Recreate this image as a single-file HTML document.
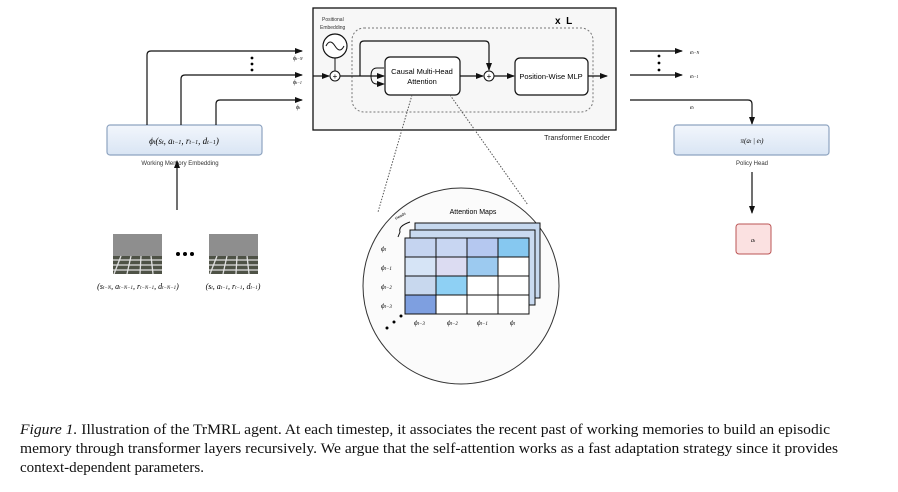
<!DOCTYPE html>
<html><head><meta charset="utf-8"><style>
body{margin:0;background:#fff}
svg{display:block}
text{font-family:"Liberation Sans",sans-serif}
text.s,.s text{font-family:"Liberation Serif",serif;font-style:italic}
text.cap{font-family:"Liberation Serif",serif;font-size:14.5px}
</style></head><body>
<svg width="898" height="492" viewBox="0 0 898 492" xmlns="http://www.w3.org/2000/svg">
<defs>
<marker id="a" markerWidth="8" markerHeight="8" refX="7" refY="4" orient="auto" markerUnits="userSpaceOnUse"><path d="M0,1 L8,4 L0,7 z" fill="#111"/></marker>
<linearGradient id="bl" x1="0" y1="0" x2="0" y2="1"><stop offset="0" stop-color="#f2f6fc"/><stop offset="1" stop-color="#d9e5f4"/></linearGradient>
</defs>
<!-- left embedding -->
<rect x="107" y="125" width="155" height="30" rx="3" fill="url(#bl)" stroke="#8ea4c0" stroke-width="1.2"/>
<text x="184" y="144" font-size="9" text-anchor="middle" class="s">ϕ<tspan font-size="6">t</tspan>(s<tspan font-size="6">t</tspan>, a<tspan font-size="6">t−1</tspan>, r<tspan font-size="6">t−1</tspan>, d<tspan font-size="6">t−1</tspan>)</text>
<text x="180" y="165" font-size="6" text-anchor="middle" fill="#333">Working Memory Embedding</text>
<path d="M147,125 V55 Q147,51 151,51 H302" fill="none" stroke="#111" stroke-width="1.2" marker-end="url(#a)"/>
<path d="M181,125 V79 Q181,75 185,75 H302" fill="none" stroke="#111" stroke-width="1.2" marker-end="url(#a)"/>
<path d="M216,125 V104 Q216,100 220,100 H302" fill="none" stroke="#111" stroke-width="1.2" marker-end="url(#a)"/>
<text x="293" y="60" font-size="6" class="s">ϕ<tspan font-size="4">t−N</tspan></text>
<text x="293" y="84" font-size="6" class="s">ϕ<tspan font-size="4">t−1</tspan></text>
<text x="296" y="109" font-size="6" class="s">ϕ<tspan font-size="4">t</tspan></text>
<circle cx="252" cy="58" r="1.4"/><circle cx="252" cy="64" r="1.4"/><circle cx="252" cy="70" r="1.4"/>
<path d="M177,210 V161" stroke="#111" stroke-width="1.2" marker-end="url(#a)"/>
<!-- images -->
<g>
<rect x="113" y="234" width="49" height="40" fill="#8e8e8e"/><rect x="113" y="256" width="49" height="18" fill="#4e5246"/>
<path d="M113,260 H162 M113,265 H162 M113,270 H162 M121,256 L114,274 M131,256 L127,274 M141,256 L140,274 M151,256 L153,274" stroke="#e0e0e0" stroke-width="1.3"/>
<rect x="209" y="234" width="49" height="40" fill="#8e8e8e"/><rect x="209" y="256" width="49" height="18" fill="#4e5246"/>
<path d="M209,260 H258 M209,265 H258 M209,270 H258 M217,256 L210,274 M227,256 L223,274 M237,256 L236,274 M247,256 L249,274" stroke="#e0e0e0" stroke-width="1.3"/>
<circle cx="178" cy="254" r="2"/><circle cx="185" cy="254" r="2"/><circle cx="192" cy="254" r="2"/>
</g>
<text x="138" y="289" font-size="8" text-anchor="middle" class="s">(s<tspan font-size="5">t−N</tspan>, a<tspan font-size="5">t−N−1</tspan>, r<tspan font-size="5">t−N−1</tspan>, d<tspan font-size="5">t−N−1</tspan>)</text>
<text x="233" y="289" font-size="8" text-anchor="middle" class="s">(s<tspan font-size="5">t</tspan>, a<tspan font-size="5">t−1</tspan>, r<tspan font-size="5">t−1</tspan>, d<tspan font-size="5">t−1</tspan>)</text>
<!-- transformer -->
<rect x="313" y="8" width="303" height="122" fill="#f7f7f7" stroke="#111" stroke-width="1.3"/>
<rect x="352" y="28" width="241" height="84" rx="12" fill="none" stroke="#777" stroke-dasharray="2,2"/>
<text x="555" y="24" font-size="10" font-weight="bold">x&#160;&#160;L</text>
<text x="322" y="21" font-size="5" fill="#333">Positional</text>
<text x="320" y="29" font-size="5" fill="#333">Embedding</text>
<circle cx="335" cy="46" r="12" fill="#fff" stroke="#111" stroke-width="1.2"/>
<path d="M326,46 Q330,38 335,46 T344,46" fill="none" stroke="#111"/>
<path d="M335,58 V71" stroke="#111"/>
<path d="M313,76 H329" stroke="#111" stroke-width="1.2" marker-end="url(#a)"/>
<circle cx="335" cy="76" r="5" fill="#fff" stroke="#111"/><text x="335" y="79" font-size="8" text-anchor="middle">+</text>
<path d="M340,76 H384" stroke="#111" stroke-width="1.2" marker-end="url(#a)"/>
<path d="M371,76 Q371,68 377,68 H384 M371,76 Q371,84 377,84 H384" fill="none" stroke="#111" marker-end="url(#a)"/>
<path d="M360,76 V45 Q360,41 364,41 H485 Q489,41 489,45 V70" fill="none" stroke="#111" stroke-width="1.2" marker-end="url(#a)"/>
<rect x="385" y="57" width="75" height="38" rx="5" fill="#fff" stroke="#111" stroke-width="1.2"/>
<text x="422" y="74" font-size="7.5" text-anchor="middle">Causal Multi-Head</text>
<text x="422" y="84" font-size="7.5" text-anchor="middle">Attention</text>
<path d="M460,76 H483" stroke="#111" stroke-width="1.2" marker-end="url(#a)"/>
<circle cx="489" cy="76" r="5" fill="#fff" stroke="#111"/><text x="489" y="79" font-size="8" text-anchor="middle">+</text>
<path d="M494,76 H514" stroke="#111" stroke-width="1.2" marker-end="url(#a)"/>
<rect x="515" y="58" width="73" height="37" rx="5" fill="#fff" stroke="#111" stroke-width="1.2"/>
<text x="551" y="79" font-size="7.5" text-anchor="middle">Position-Wise MLP</text>
<path d="M588,76 H607" stroke="#111" stroke-width="1.2" marker-end="url(#a)"/>
<text x="610" y="140" font-size="7" text-anchor="end" fill="#222">Transformer Encoder</text>
<!-- right -->
<path d="M630,51 H682" stroke="#111" stroke-width="1.2" marker-end="url(#a)"/>
<path d="M630,75 H682" stroke="#111" stroke-width="1.2" marker-end="url(#a)"/>
<text x="690" y="54" font-size="6" class="s">e<tspan font-size="4">t−N</tspan></text>
<text x="690" y="78" font-size="6" class="s">e<tspan font-size="4">t−1</tspan></text>
<circle cx="659" cy="56" r="1.4"/><circle cx="659" cy="63" r="1.4"/><circle cx="659" cy="70" r="1.4"/>
<path d="M630,100 H748 Q752,100 752,104 V124" fill="none" stroke="#111" stroke-width="1.2" marker-end="url(#a)"/>
<text x="690" y="109" font-size="6" class="s">e<tspan font-size="4">t</tspan></text>
<rect x="674" y="125" width="155" height="30" rx="3" fill="url(#bl)" stroke="#8ea4c0" stroke-width="1.2"/>
<text x="752" y="143" font-size="7" text-anchor="middle" class="s">π(a<tspan font-size="5">t</tspan> | e<tspan font-size="5">t</tspan>)</text>
<text x="752" y="165" font-size="6" text-anchor="middle" fill="#333">Policy Head</text>
<path d="M752,172 V213" stroke="#111" stroke-width="1.2" marker-end="url(#a)"/>
<rect x="736" y="224" width="35" height="30" rx="3" fill="#fbe1e1" stroke="#b55" stroke-width="1"/>
<text x="753" y="242" font-size="6" text-anchor="middle" class="s">a<tspan font-size="4">t</tspan></text>
<!-- zoom circle -->
<path d="M412,95 L378,212 M450,95 L528,205" stroke="#555" stroke-dasharray="1.5,1.5" fill="none"/>
<circle cx="461" cy="286" r="98" fill="#fbfbfb" stroke="#333" stroke-width="1"/>
<text x="473" y="214" font-size="7" text-anchor="middle">Attention Maps</text>
<path d="M410,222 Q398,226 400,232 L398,237" fill="none" stroke="#111"/>
<text x="396" y="220" font-size="4" transform="rotate(-30 396 220)">Heads</text>
<g stroke="#111" stroke-width="1">
<rect x="415" y="223" width="125" height="75" fill="#c6d8ee"/>
<rect x="410" y="230" width="125" height="75" fill="#c9daf0"/>
</g>
<g stroke="#111" stroke-width="1">
<rect x="405" y="238" width="31" height="19" fill="#c5d4f0"/><rect x="436" y="238" width="31" height="19" fill="#c8d6f2"/><rect x="467" y="238" width="31" height="19" fill="#b5c8f0"/><rect x="498" y="238" width="31" height="19" fill="#86c8f0"/>
<rect x="405" y="257" width="31" height="19" fill="#d6e4f6"/><rect x="436" y="257" width="31" height="19" fill="#dcdcf2"/><rect x="467" y="257" width="31" height="19" fill="#9ccaf0"/><rect x="498" y="257" width="31" height="19" fill="#fff"/>
<rect x="405" y="276" width="31" height="19" fill="#c8d8ee"/><rect x="436" y="276" width="31" height="19" fill="#8ed0f4"/><rect x="467" y="276" width="31" height="19" fill="#fff"/><rect x="498" y="276" width="31" height="19" fill="#fff"/>
<rect x="405" y="295" width="31" height="19" fill="#7e9fe0"/><rect x="436" y="295" width="31" height="19" fill="#fff"/><rect x="467" y="295" width="31" height="19" fill="#fff"/><rect x="498" y="295" width="31" height="19" fill="#fff"/>
</g>
<g font-size="7" class="s">
<text x="381" y="251">ϕ<tspan font-size="5">t</tspan></text>
<text x="381" y="270">ϕ<tspan font-size="5">t−1</tspan></text>
<text x="381" y="289">ϕ<tspan font-size="5">t−2</tspan></text>
<text x="381" y="308">ϕ<tspan font-size="5">t−3</tspan></text>
<text x="414" y="325">ϕ<tspan font-size="5">t−3</tspan></text>
<text x="447" y="325">ϕ<tspan font-size="5">t−2</tspan></text>
<text x="477" y="325">ϕ<tspan font-size="5">t−1</tspan></text>
<text x="510" y="325">ϕ<tspan font-size="5">t</tspan></text>
</g>
<circle cx="401" cy="316" r="1.5"/><circle cx="394" cy="322" r="1.5"/><circle cx="387" cy="328" r="1.5"/>
<!-- caption -->
<g fill="#111">
<text class="cap" x="20" y="434" textLength="810" lengthAdjust="spacingAndGlyphs"><tspan font-style="italic">Figure 1.</tspan> Illustration of the TrMRL agent.  At each timestep, it associates the recent past of working memories to build an episodic</text>
<text class="cap" x="20" y="453" textLength="818" lengthAdjust="spacingAndGlyphs">memory through transformer layers recursively.  We argue that the self-attention works as a fast adaptation strategy since it provides</text>
<text class="cap" x="20" y="472" textLength="184" lengthAdjust="spacingAndGlyphs">context-dependent parameters.</text>
</g>
</svg>
</body></html>
